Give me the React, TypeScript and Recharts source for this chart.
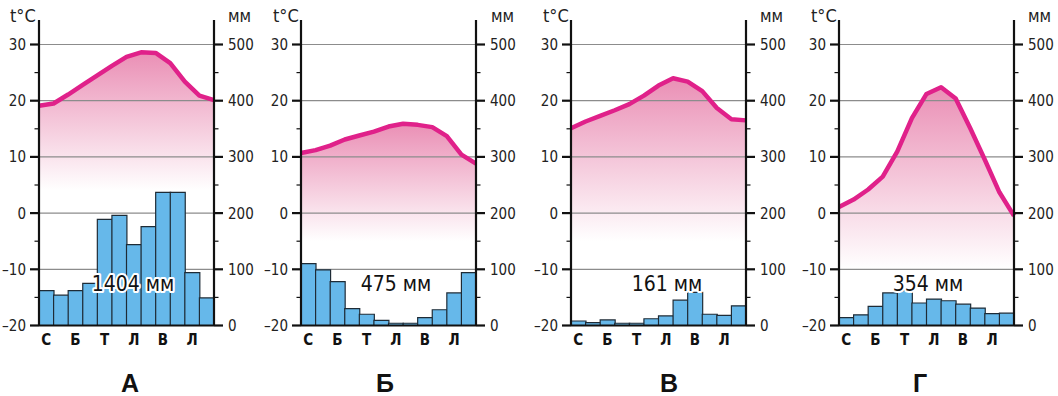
import React from "react";
import {
  ComposedChart,
  BarChart,
  Bar,
  Area,
  Line,
  XAxis,
  YAxis,
  ReferenceLine,
} from "recharts";

// month initials (Ukrainian), Jan..Dec
const months = ["С", "Л", "Б", "К", "Т", "Ч", "Л", "С", "В", "Ж", "Л", "Г"];

// temperature, read at month boundaries (13 points, °C)
const tempA = [19.1, 19.5, 21.1, 22.8, 24.5, 26.2, 27.8, 28.6, 28.5, 26.7, 23.4, 20.9, 20.1];
const tempB = [10.7, 11.2, 12.0, 13.1, 13.8, 14.5, 15.4, 15.9, 15.7, 15.3, 13.7, 10.4, 8.8];
const tempC = [15.1, 16.3, 17.3, 18.3, 19.4, 20.9, 22.7, 24.0, 23.4, 21.7, 18.7, 16.7, 16.5];
const tempD = [1.1, 2.4, 4.2, 6.5, 11.0, 16.9, 21.2, 22.4, 20.4, 15.1, 9.5, 3.7, -0.5];

// monthly precipitation, mm
const precipA = [62, 54, 62, 75, 189, 196, 144, 176, 237, 237, 94, 49];
const precipB = [110, 99, 78, 30, 20, 9, 4, 4, 14, 28, 58, 94];
const precipC = [8, 5, 10, 4, 4, 12, 17, 45, 59, 20, 18, 35];
const precipD = [14, 19, 34, 58, 62, 40, 47, 44, 38, 31, 21, 22];

const totals = [1404, 475, 161, 354];
const letters = ["А", "Б", "В", "Г"];

const tempTicks = [-20, -15, -10, -5, 0, 5, 10, 15, 20, 25, 30];
const mmTicks = [0, 50, 100, 150, 200, 250, 300, 350, 400, 450, 500];
const gridValues = [30, 20, 10, 0, -10];

const FONT = '"Liberation Sans Narrow", "Arial Narrow", "DejaVu Sans Condensed", "Liberation Sans", sans-serif';
const BOLD_FONT = '"Liberation Sans", Arial, sans-serif';

const LINE = "#e0218a";
const BAR = "#66b8ea";
const INK = "#111";

// layout of each panel (x of left plot edge, label spots)
const panels = [
  { plotLeft: 39, fadeTo: 4, tX: 10, mmX: 228, totalX: 133, letterX: 130 },
  { plotLeft: 301, fadeTo: -5, tX: 273, mmX: 491, totalX: 396, letterX: 385 },
  { plotLeft: 571, fadeTo: -5, tX: 543, mmX: 760, totalX: 667, letterX: 669 },
  { plotLeft: 839, fadeTo: -10, tX: 811, mmX: 1028, totalX: 928, letterX: 920 },
];

const temps = [tempA, tempB, tempC, tempD];
const precips = [precipA, precipB, precipC, precipD];

const CH_W = 260;
const CH_H = 360;
const MARGIN = { top: 20, right: 0, bottom: 0, left: 0 };
const T_DOMAIN: [number, number] = [-20, 34.36];
const MM_DOMAIN: [number, number] = [0, 543.6];

const fmt = (v: number) => (v < 0 ? "–" + Math.abs(v) : String(v));

function LeftTick(props: any) {
  const { x, y, payload } = props;
  const v = payload.value;
  const major = v % 10 === 0;
  return (
    <g>
      <line x1={x - (major ? 9 : 4.5)} x2={x} y1={y} y2={y} stroke={INK} strokeWidth={major ? 2.2 : 1.2} />
      {major && (
        <text x={x - 13} y={y} dy="0.36em" textAnchor="end" fontSize={15} fontFamily={FONT} fill="#222">
          {fmt(v)}
        </text>
      )}
    </g>
  );
}

function RightTick(props: any) {
  const { x, y, payload } = props;
  const v = payload.value;
  const major = v % 100 === 0;
  return (
    <g>
      <line x1={x} x2={x + (major ? 9 : 4.5)} y1={y} y2={y} stroke={INK} strokeWidth={major ? 2.2 : 1.2} />
      {major && (
        <text x={x + 14} y={y} dy="0.36em" textAnchor="start" fontSize={15} fontFamily={FONT} fill="#222">
          {v}
        </text>
      )}
    </g>
  );
}

function Panel({ idx }: { idx: number }) {
  const p = panels[idx];
  const lineData = temps[idx].map((t, i) => ({ x: i, t }));
  const barData = months.map((m, i) => ({ m, mm: precips[idx][i] }));
  const gid = "fade" + idx;
  const left = p.plotLeft - 40;

  return (
    <>
      <div style={{ position: "absolute", left, top: 0 }}>
        <ComposedChart width={CH_W} height={CH_H} data={lineData} margin={MARGIN}>
          <defs>
            <linearGradient id={gid} x1="0" y1="0" x2="0" y2="1">
              <stop offset="0%" stopColor="#ea8fb5" stopOpacity={1} />
              <stop offset="100%" stopColor="#ffffff" stopOpacity={1} />
            </linearGradient>
          </defs>
          <XAxis dataKey="x" type="number" domain={[0, 12]} height={34.5} tick={false} axisLine={false} tickLine={false} />
          <YAxis yAxisId="t" domain={T_DOMAIN} width={40} tick={false} axisLine={false} tickLine={false} allowDataOverflow />
          <YAxis yAxisId="mm" orientation="right" domain={MM_DOMAIN} width={45} tick={false} axisLine={false} tickLine={false} />
          <Area
            yAxisId="t"
            type="linear"
            dataKey="t"
            baseValue={p.fadeTo}
            fill={`url(#${gid})`}
            fillOpacity={1}
            stroke="none"
            isAnimationActive={false}
          />
          {gridValues.map((g) => (
            <ReferenceLine key={g} yAxisId="t" y={g} stroke="#8c8c8c" strokeWidth={1.2} />
          ))}
          <Line
            yAxisId="t"
            type="linear"
            dataKey="t"
            stroke={LINE}
            strokeWidth={4.5}
            strokeLinejoin="round"
            dot={false}
            isAnimationActive={false}
          />
        </ComposedChart>
      </div>
      <div style={{ position: "absolute", left, top: 0 }}>
        <BarChart width={CH_W} height={CH_H} data={barData} margin={MARGIN} barCategoryGap={0} barGap={0}>
          <XAxis
            dataKey="m"
            interval={1}
            height={34.5}
            tickLine={false}
            tickSize={0}
            tickMargin={9}
            axisLine={{ stroke: INK, strokeWidth: 2.2 }}
            tick={{ fontSize: 15, fontWeight: 700, fontFamily: FONT, fill: "#111" }}
          />
          <YAxis
            yAxisId="t"
            domain={T_DOMAIN}
            ticks={tempTicks}
            width={40}
            tickLine={false}
            tickSize={0}
            tickMargin={0}
            interval={0}
            axisLine={{ stroke: INK, strokeWidth: 2.2 }}
            tick={<LeftTick />}
            allowDataOverflow
          />
          <YAxis
            yAxisId="mm"
            orientation="right"
            domain={MM_DOMAIN}
            ticks={mmTicks}
            width={45}
            tickLine={false}
            tickSize={0}
            tickMargin={0}
            interval={0}
            axisLine={{ stroke: INK, strokeWidth: 2.2 }}
            tick={<RightTick />}
            allowDataOverflow
          />
          <Bar yAxisId="mm" dataKey="mm" fill={BAR} stroke="#1e2b36" strokeWidth={1.2} isAnimationActive={false} />
        </BarChart>
      </div>
    </>
  );
}

export default function App() {
  return (
    <div
      style={{
        position: "absolute",
        left: 0,
        top: 0,
        width: 1058,
        height: 396,
        background: "#fff",
        overflow: "hidden",
      }}
    >
      {panels.map((_, i) => (
        <Panel key={i} idx={i} />
      ))}
      <svg width={1058} height={396} style={{ position: "absolute", left: 0, top: 0, pointerEvents: "none" }}>
        {panels.map((p, i) => (
          <g key={i}>
            <text x={p.tX} y={22} fontSize={18} fontFamily={FONT} fill="#222">
              t°C
            </text>
            <text x={p.mmX} y={22} fontSize={17} fontFamily={FONT} fill="#222">
              мм
            </text>
            <text
              x={p.totalX}
              y={283}
              dy="0.36em"
              textAnchor="middle"
              fontSize={21}
              fontFamily={FONT}
              fill="#111"
              stroke="#fff"
              strokeWidth={4}
              strokeLinejoin="round"
              paintOrder="stroke"
            >
              {totals[i] + " мм"}
            </text>
            <text x={p.letterX} y={383} dy="0.36em" textAnchor="middle" fontSize={25} fontWeight={700} fontFamily={BOLD_FONT} fill="#111">
              {letters[i]}
            </text>
          </g>
        ))}
      </svg>
    </div>
  );
}
